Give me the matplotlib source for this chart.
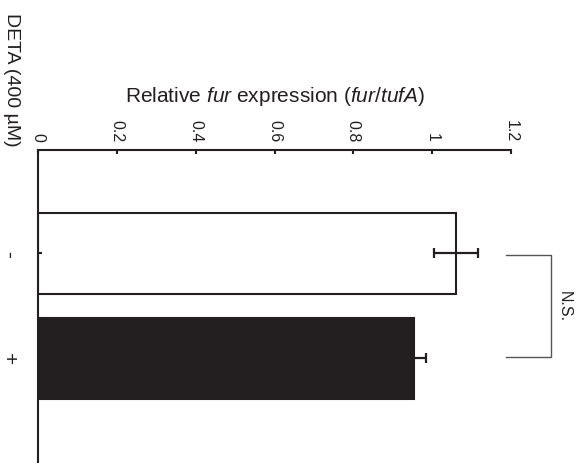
import matplotlib
matplotlib.use('Agg')
import matplotlib.pyplot as plt
import numpy as np

# data
conditions = ['-', '+']
expression = [1.061, 0.954]
errors = [0.056, 0.031]
bar_colors = ['white', '#231f20']

ink = '#231f20'
plt.rcParams['font.family'] = ['Liberation Sans', 'DejaVu Sans']
plt.rcParams['mathtext.fontset'] = 'custom'
plt.rcParams['mathtext.rm'] = 'Liberation Sans'
plt.rcParams['mathtext.it'] = 'Liberation Sans:italic'
plt.rcParams['text.color'] = ink

W, H = 582, 464
fig = plt.figure(figsize=(W / 100, H / 100), dpi=100)
ax = fig.add_axes([38 / W, 0, (511 - 38) / W, (H - 150.7) / H])

pos = np.arange(len(conditions))
ax.barh(pos, expression, height=0.77, color=bar_colors, edgecolor=ink,
        linewidth=1.5, xerr=errors,
        error_kw=dict(ecolor=ink, elinewidth=1.6, capsize=3.6, capthick=1.6))

ax.set_xlim(0, 1.2)
ax.set_ylim(1.997, -0.987)
ax.set_xticks([0, 0.2, 0.4, 0.6, 0.8, 1, 1.2])
ax.set_xticklabels(['0', '0.2', '0.4', '0.6', '0.8', '1', '1.2'])
ax.set_yticks(pos)
ax.set_yticklabels(conditions)

ax.xaxis.tick_top()
ax.xaxis.set_label_position('top')
for s in ['bottom', 'right']:
    ax.spines[s].set_visible(False)
for s in ['top', 'left']:
    ax.spines[s].set_linewidth(1.5)
    ax.spines[s].set_color(ink)

ax.tick_params(axis='x', direction='in', length=3, width=1.5, color=ink,
               pad=6, labelsize=11.5, labelcolor=ink)
ax.tick_params(axis='y', direction='in', length=3, width=1.5, color=ink,
               pad=21, labelsize=15, labelcolor=ink)
for lab in ax.get_xticklabels():
    lab.set_rotation(-90)
    lab.set_ha('center')
    lab.set_va('bottom')
for lab in ax.get_yticklabels():
    lab.set_rotation(-90)
    lab.set_va('center')
    lab.set_ha('center')

ax.set_xlabel(r'Relative $\it{fur}$ expression ($\it{fur/tufA}$)',
              fontsize=15, labelpad=13, color=ink)

fig.text(11 / W, 1 - 80 / H, 'DETA (400 µM)', rotation=-90,
         ha='center', va='center', fontsize=14, color=ink)

# N.S. bracket
bx0, bx1 = 1.188, 1.301
ax.plot([bx0, bx1, bx1, bx0], [pos[0] + 0.02, pos[0] + 0.02, pos[1] - 0.01, pos[1] - 0.01],
        color='#555555', lw=1, clip_on=False)
ax.text(1.336, (pos[0] + pos[1]) / 2, 'N.S.', rotation=-90, ha='center',
        va='center', fontsize=11.5, color=ink, clip_on=False)

fig.savefig('out.png', dpi=100)
